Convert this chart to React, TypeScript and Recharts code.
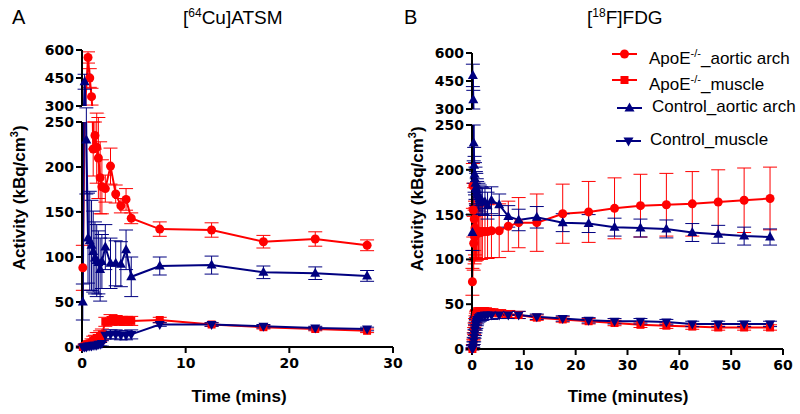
import React from "react";
import { LineChart, Line, XAxis, YAxis, ErrorBar } from "recharts";

const RED = "#ff0000";
const BLUE = "#000080";

// [64Cu]ATSM, frame mid-times in minutes
const ATSM_TIME = [0.08, 0.25, 0.42, 0.58, 0.75, 0.92, 1.08, 1.25, 1.42, 1.58, 1.75, 1.92, 2.25, 2.75, 3.25, 3.75, 4.25, 4.75, 7.5, 12.5, 17.5, 22.5, 27.5];
const ATSM_APOE_ARCH = [88, null, null, 560, 450, 350, 220, 235, 222, 210, 188, 178, 176, 201, 170, 157, 164, 143, 131, 130, 117, 120, 113];
const ATSM_APOE_ARCH_SD = [25, null, null, 30, 50, 45, 30, 15, 40, 45, 40, 30, 15, 20, 10, 8, 12, 6, 8, 8, 7, 8, 6];
const ATSM_APOE_MUSC = [0, 1, 2, 3, 4, 5, 7, 8, 10, 10, 12, 14, 28, 30, 30, 29, 29, 29, 30, 25, 22, 20, 18];
const ATSM_APOE_MUSC_SD = [1, 2, 2, 3, 3, 4, 5, 5, 6, 6, 6, 6, 5, 6, 5, 5, 5, 5, 3, 2, 2, 2, 2];
const ATSM_CTRL_ARCH = [50, 430, 230, 121, 118, 113, 106, 99, 96, 94, 86, 95, 111, 93, 93, 92, 108, 78, 90, 91, 83, 82, 79];
const ATSM_CTRL_ARCH_SD = [20, 40, 60, 50, 55, 50, 45, 40, 40, 35, 35, 30, 25, 28, 25, 25, 22, 22, 10, 10, 7, 7, 6];
const ATSM_CTRL_MUSC = [0, 0, 0, 1, 1, 1, 2, 2, 2, 3, 3, 4, 13, 14, 14, 13, 13, 14, 25, 25, 23, 21, 20];
const ATSM_CTRL_MUSC_SD = [1, 1, 1, 1, 1, 2, 2, 2, 2, 2, 2, 3, 4, 5, 5, 5, 5, 5, 2, 2, 2, 2, 2];

// [18F]FDG
const FDG_TIME = [0.08, 0.17, 0.25, 0.33, 0.42, 0.5, 0.58, 0.67, 0.75, 0.83, 0.92, 1, 1.25, 1.5, 1.75, 2, 2.5, 3, 3.75, 5.25, 7, 9, 12.5, 17.5, 22.5, 27.5, 32.5, 37.5, 42.5, 47.5, 52.5, 57.5];
const FDG_APOE_ARCH = [75, 182, 155, 118, 145, 125, 135, 128, 132, 130, 129, 131, 130, 131, 130, 131, 131, 131, 132, 132, 137, 141, 141, 151, 153, 157, 160, 161, 162, 164, 166, 168];
const FDG_APOE_ARCH_SD = [15, 25, 30, 30, 35, 30, 30, 30, 30, 30, 30, 30, 30, 30, 30, 30, 30, 30, 30, 30, 28, 28, 32, 33, 34, 34, 35, 35, 36, 36, 36, 35];
const FDG_APOE_MUSC = [0, 3, 8, 14, 20, 25, 30, 33, 36, 38, 39, 40, 41, 42, 42, 42, 42, 41, 41, 40, 39, 38, 35, 33, 31, 29, 27, 26, 25, 24, 24, 24];
const FDG_APOE_MUSC_SD = [1, 2, 3, 4, 4, 4, 4, 4, 4, 4, 4, 4, 4, 4, 4, 4, 4, 4, 4, 4, 4, 4, 3, 3, 3, 3, 3, 3, 3, 3, 3, 3];
const FDG_CTRL_ARCH = [130, 480, 350, 230, 205, 195, 190, 185, 180, 178, 175, 172, 170, 168, 166, 165, 164, 160, 166, 161, 148, 144, 147, 141, 140, 136, 135, 134, 130, 128, 126, 125];
const FDG_CTRL_ARCH_SD = [20, 60, 50, 20, 20, 20, 18, 18, 18, 18, 15, 15, 15, 15, 15, 15, 15, 15, 15, 12, 12, 12, 12, 10, 10, 10, 10, 10, 10, 10, 10, 9];
const FDG_CTRL_MUSC = [0, 2, 5, 9, 13, 17, 21, 24, 27, 29, 31, 33, 35, 36, 37, 37, 38, 38, 38, 38, 38, 38, 36, 34, 32, 31, 31, 30, 28, 28, 28, 28];
const FDG_CTRL_MUSC_SD = [1, 2, 3, 4, 5, 5, 6, 6, 6, 6, 5, 5, 5, 5, 5, 5, 5, 5, 5, 4, 4, 4, 3, 3, 3, 3, 3, 3, 3, 3, 3, 3];

const ATSM_X_TICKS = [0, 10, 20, 30];
const FDG_X_TICKS = [0, 10, 20, 30, 40, 50, 60];
const UPPER_TICKS = [300, 450, 600];
const LOWER_TICKS = [0, 50, 100, 150, 200, 250];

type Shape = "circle" | "square" | "up" | "down";
interface Series {
  id: string;
  color: string;
  shape: Shape;
  values: (number | null)[];
  sd: (number | null)[];
}

const rows = (t: number[], v: (number | null)[], e: (number | null)[]) =>
  t.map((x, i) => ({ t: x, v: v[i], e: e[i] })).filter((r) => r.v != null);

const marker = (shape: Shape, color: string, cx: number, cy: number, key?: string) => {
  if (shape === "circle") return <circle key={key} cx={cx} cy={cy} r={4.5} fill={color} />;
  if (shape === "square") return <rect key={key} x={cx - 4} y={cy - 4} width={8} height={8} fill={color} />;
  if (shape === "up")
    return <polygon key={key} points={`${cx},${cy - 5.5} ${cx + 5},${cy + 3.5} ${cx - 5},${cy + 3.5}`} fill={color} />;
  return <polygon key={key} points={`${cx},${cy + 5.5} ${cx + 5},${cy - 3.5} ${cx - 5},${cy - 3.5}`} fill={color} />;
};

const dotFn = (shape: Shape, color: string) => (p: any) => {
  if (p.cx == null || p.cy == null) return <g key={p.key} />;
  return marker(shape, color, p.cx, p.cy, p.key);
};

const tickStyle = { fill: "#000", fontSize: 14, fontWeight: "bold", fontFamily: "DejaVu Sans" };
const axisLine = { stroke: "#000", strokeWidth: 2 };

function Segment(props: {
  left: number; top: number; height: number; xMax: number; xTicks: number[];
  domain: [number, number]; yTicks: number[]; showX: boolean; times: number[]; series: Series[];
}) {
  const { left, top, height, xMax, xTicks, domain, yTicks, showX, times, series } = props;
  return (
    <div style={{ position: "absolute", left, top }}>
      <LineChart width={366} height={height} margin={{ top: 8, right: 15, bottom: showX ? 4 : 8, left: 0 }}>
        <XAxis type="number" dataKey="t" domain={[0, xMax]} ticks={xTicks} hide={!showX} height={30}
          axisLine={axisLine} tickLine={axisLine} tickSize={6} tickMargin={5} tick={tickStyle} />
        <YAxis yAxisId="main" orientation="left" type="number" domain={domain} ticks={yTicks} allowDataOverflow width={40}
          axisLine={axisLine} tickLine={axisLine} tickSize={6} tickMargin={2} tick={tickStyle} interval={0} />
        <YAxis yAxisId="dots" orientation="right" type="number" domain={domain} hide width={0} />
        {series.map((s) => (
          <Line key={s.id + "-l"} yAxisId="main" data={rows(times, s.values, s.sd)} dataKey="v" stroke={s.color}
            strokeWidth={2} dot={false} activeDot={false} isAnimationActive={false}>
            <ErrorBar dataKey="e" direction="y" width={7} stroke={s.color} strokeWidth={1} />
          </Line>
        ))}
        {series.map((s) => (
          <Line key={s.id + "-d"} yAxisId="dots"
            data={rows(times, s.values, s.sd).filter((r) => (r.v as number) >= domain[0] && (r.v as number) <= domain[1])}
            dataKey="v" stroke="none" dot={dotFn(s.shape, s.color)} activeDot={false} isAnimationActive={false} />
        ))}
      </LineChart>
    </div>
  );
}

const ATSM_SERIES: Series[] = [
  { id: "aa", color: RED, shape: "circle", values: ATSM_APOE_ARCH, sd: ATSM_APOE_ARCH_SD },
  { id: "am", color: RED, shape: "square", values: ATSM_APOE_MUSC, sd: ATSM_APOE_MUSC_SD },
  { id: "ca", color: BLUE, shape: "up", values: ATSM_CTRL_ARCH, sd: ATSM_CTRL_ARCH_SD },
  { id: "cm", color: BLUE, shape: "down", values: ATSM_CTRL_MUSC, sd: ATSM_CTRL_MUSC_SD },
];
const FDG_SERIES: Series[] = [
  { id: "aa", color: RED, shape: "circle", values: FDG_APOE_ARCH, sd: FDG_APOE_ARCH_SD },
  { id: "am", color: RED, shape: "square", values: FDG_APOE_MUSC, sd: FDG_APOE_MUSC_SD },
  { id: "ca", color: BLUE, shape: "up", values: FDG_CTRL_ARCH, sd: FDG_CTRL_ARCH_SD },
  { id: "cm", color: BLUE, shape: "down", values: FDG_CTRL_MUSC, sd: FDG_CTRL_MUSC_SD },
];

const abs = (left: number, top: number, extra: React.CSSProperties = {}): React.CSSProperties => ({
  position: "absolute", left, top, whiteSpace: "nowrap", ...extra,
});

const YLabel = ({ cx, cy }: { cx: number; cy: number }) => (
  <div style={abs(cx - 90, cy - 11, { width: 180, textAlign: "center", fontWeight: "bold", fontSize: 17, transform: "rotate(-90deg)" })}>
    Activity (kBq/cm<sup style={{ fontSize: 11 }}>3</sup>)
  </div>
);

const LegendItem = ({ x, y, textX, shape, color, children }: any) => (
  <>
    <svg style={abs(x, y - 8)} width={26} height={16}>
      <line x1={0} y1={8} x2={25} y2={8} stroke={color} strokeWidth={2} />
      {marker(shape, color, 12.5, 8)}
    </svg>
    <div style={abs(textX, y - 11, { fontSize: 17, lineHeight: "20px" })}>{children}</div>
  </>
);

export default function App() {
  return (
    <div style={{ position: "absolute", left: 0, top: 0, width: 800, height: 414, background: "#fff", fontFamily: "'Liberation Sans', Arial, sans-serif", color: "#000" }}>
      <div style={abs(12, 6, { fontSize: 20 })}>A</div>
      <div style={abs(183, 6, { fontSize: 19 })}>[<sup style={{ fontSize: 12 }}>64</sup>Cu]ATSM</div>
      <div style={abs(404, 6, { fontSize: 20 })}>B</div>
      <div style={abs(587, 6, { fontSize: 19 })}>[<sup style={{ fontSize: 12 }}>18</sup>F]FDG</div>

      <Segment left={42} top={42} height={72} xMax={30} xTicks={ATSM_X_TICKS} domain={[300, 600]} yTicks={UPPER_TICKS} showX={false} times={ATSM_TIME} series={ATSM_SERIES} />
      <Segment left={42} top={114} height={267} xMax={30} xTicks={ATSM_X_TICKS} domain={[0, 250]} yTicks={LOWER_TICKS} showX times={ATSM_TIME} series={ATSM_SERIES} />
      <Segment left={432} top={45} height={72} xMax={60} xTicks={FDG_X_TICKS} domain={[300, 600]} yTicks={UPPER_TICKS} showX={false} times={FDG_TIME} series={FDG_SERIES} />
      <Segment left={432} top={117} height={266} xMax={60} xTicks={FDG_X_TICKS} domain={[0, 250]} yTicks={LOWER_TICKS} showX times={FDG_TIME} series={FDG_SERIES} />

      <YLabel cx={19} cy={198} />
      <YLabel cx={417} cy={199} />
      <div style={abs(239 - 60, 387, { width: 120, textAlign: "center", fontWeight: "bold", fontSize: 17 })}>Time (mins)</div>
      <div style={abs(628 - 80, 387, { width: 160, textAlign: "center", fontWeight: "bold", fontSize: 17 })}>Time (minutes)</div>

      <LegendItem x={612} y={54} textX={649} shape="circle" color={RED}>ApoE<sup style={{ fontSize: 11 }}>-/-</sup>_aortic arch</LegendItem>
      <LegendItem x={612} y={80} textX={649} shape="square" color={RED}>ApoE<sup style={{ fontSize: 11 }}>-/-</sup>_muscle</LegendItem>
      <LegendItem x={617} y={108} textX={652} shape="up" color={BLUE}>Control_aortic arch</LegendItem>
      <LegendItem x={616} y={141} textX={650} shape="down" color={BLUE}>Control_muscle</LegendItem>
    </div>
  );
}
